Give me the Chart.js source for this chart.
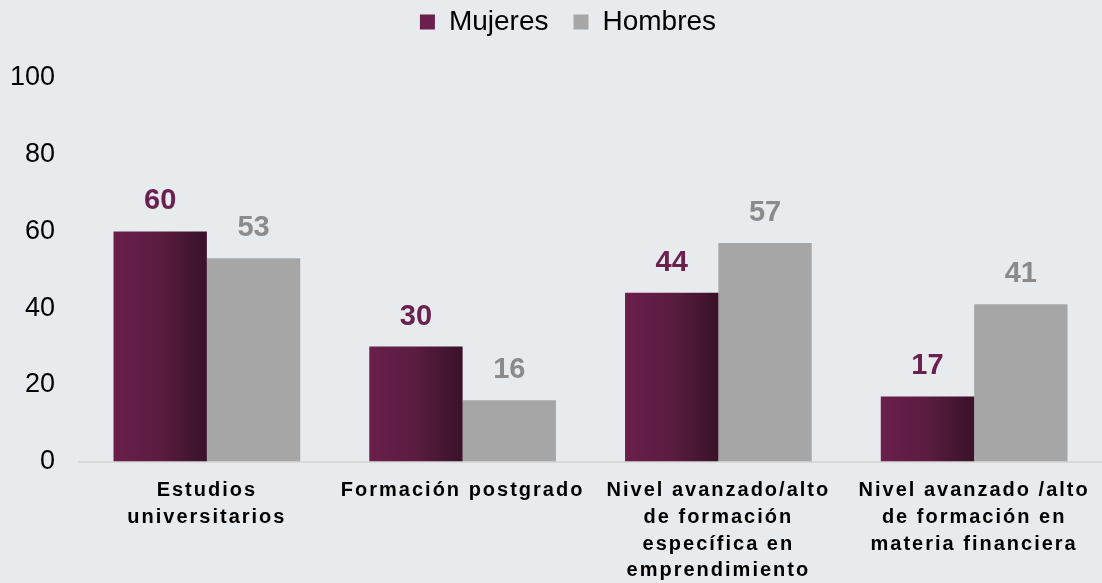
<!DOCTYPE html>
<html lang="es">
<head>
    <meta charset="UTF-8">
    <title>Formación por sexo</title>
    <script src="https://cdn.jsdelivr.net/npm/chart.js"></script>
    <style>
        body {
            margin: 0;
            background-color: #e8ebed;
            font-family: "Liberation Sans", Arial, sans-serif;
        }
        .chart-container {
            position: relative;
            width: 1102px;
            height: 583px;
        }
    </style>
</head>
<body>
    <div class="chart-container">
        <canvas id="barChart"></canvas>
    </div>

    <script>
        // Data
        const categories = [
            ['Estudios', 'universitarios'],
            ['Formación postgrado'],
            ['Nivel avanzado/alto', 'de formación', 'específica en', 'emprendimiento'],
            ['Nivel avanzado /alto', 'de formación en', 'materia financiera']
        ];
        const mujeres = [60, 30, 44, 17];
        const hombres = [53, 16, 57, 41];
        const yTicks = [0, 20, 40, 60, 80, 100];

        const fontFamily = '"Liberation Sans", Arial, sans-serif';
        const purple = '#6b1f4c';
        const purpleDark = '#3a1229';
        const grey = '#a6a6a6';

        // horizontal gradient on the Mujeres bars (own options object per bar)
        const gradientBars = {
            id: 'gradientBars',
            beforeDatasetsDraw(chart) {
                const ctx = chart.ctx;
                chart.getDatasetMeta(0).data.forEach(bar => {
                    const half = bar.width / 2;
                    const g = ctx.createLinearGradient(bar.x - half, 0, bar.x + half, 0);
                    g.addColorStop(0, purple);
                    g.addColorStop(0.5, '#5a1c40');
                    g.addColorStop(1, purpleDark);
                    bar.options = Object.assign({}, bar.options, { backgroundColor: g });
                });
            }
        };

        // value labels above bars
        const valueLabels = {
            id: 'valueLabels',
            afterDatasetsDraw(chart) {
                const ctx = chart.ctx;
                ctx.save();
                ctx.font = 'bold 29px ' + fontFamily;
                ctx.textAlign = 'center';
                ctx.textBaseline = 'alphabetic';
                chart.data.datasets.forEach((ds, i) => {
                    ctx.fillStyle = ds.labelColor;
                    chart.getDatasetMeta(i).data.forEach((bar, j) => {
                        ctx.fillText(ds.data[j], bar.x, bar.y - 22);
                    });
                });
                ctx.restore();
            }
        };

        // fixed legend height and a small shift to the right
        const legendTweak = {
            id: 'legendTweak',
            beforeInit(chart) {
                const legend = chart.legend;
                const fit = legend.fit;
                legend.fit = function () {
                    fit.call(this);
                    this.height = 95;
                };
                const draw = legend.draw;
                legend.draw = function () {
                    const c = this.ctx;
                    c.save();
                    c.translate(12, 0);
                    draw.call(this);
                    c.restore();
                };
            }
        };

        // wider letter spacing on the category labels
        const spacedLabels = {
            id: 'spacedLabels',
            beforeDraw(chart) {
                const xs = chart.scales.x;
                if (xs._spaced) return;
                const orig = xs.drawLabels;
                xs.drawLabels = function (area) {
                    const c = this.ctx;
                    c.save();
                    c.letterSpacing = '2px';
                    orig.call(this, area);
                    c.restore();
                };
                xs._spaced = true;
            }
        };

        const ctx = document.getElementById('barChart').getContext('2d');
        const chart = new Chart(ctx, {
            type: 'bar',
            data: {
                labels: categories,
                datasets: [
                    {
                        label: 'Mujeres',
                        data: mujeres,
                        backgroundColor: purple,
                        labelColor: '#6b2150',
                        categoryPercentage: 0.73,
                        barPercentage: 1
                    },
                    {
                        label: 'Hombres',
                        data: hombres,
                        backgroundColor: grey,
                        labelColor: '#8b8b8b',
                        categoryPercentage: 0.73,
                        barPercentage: 1
                    }
                ]
            },
            options: {
                responsive: true,
                maintainAspectRatio: false,
                animation: false,
                layout: {
                    padding: { left: 10, right: 0, top: -17, bottom: -17 }
                },
                plugins: {
                    tooltip: { enabled: false },
                    legend: {
                        position: 'top',
                        labels: {
                            color: '#000',
                            font: { size: 28, family: fontFamily },
                            boxWidth: 15,
                            boxHeight: 15,
                            padding: 25
                        }
                    }
                },
                scales: {
                    x: {
                        grid: { display: false, drawTicks: false },
                        border: { color: '#d9d9d9', width: 2 },
                        afterFit(axis) {
                            axis.paddingLeft = 0;
                            axis.paddingRight = 0;
                        },
                        ticks: {
                            color: '#000',
                            maxRotation: 0,
                            autoSkip: false,
                            padding: 16,
                            font: { size: 20, weight: 'bold', family: fontFamily, lineHeight: 1.33 }
                        }
                    },
                    y: {
                        min: 0,
                        max: 100,
                        afterBuildTicks(axis) {
                            axis.ticks = yTicks.map(v => ({ value: v }));
                        },
                        afterFit(axis) {
                            axis.width = 69;
                        },
                        grid: { display: false, drawTicks: false },
                        border: { display: false },
                        ticks: {
                            color: '#000',
                            padding: 24,
                            font: { size: 27, family: fontFamily }
                        }
                    }
                }
            },
            plugins: [gradientBars, valueLabels, legendTweak, spacedLabels]
        });
    </script>
</body>
</html>
